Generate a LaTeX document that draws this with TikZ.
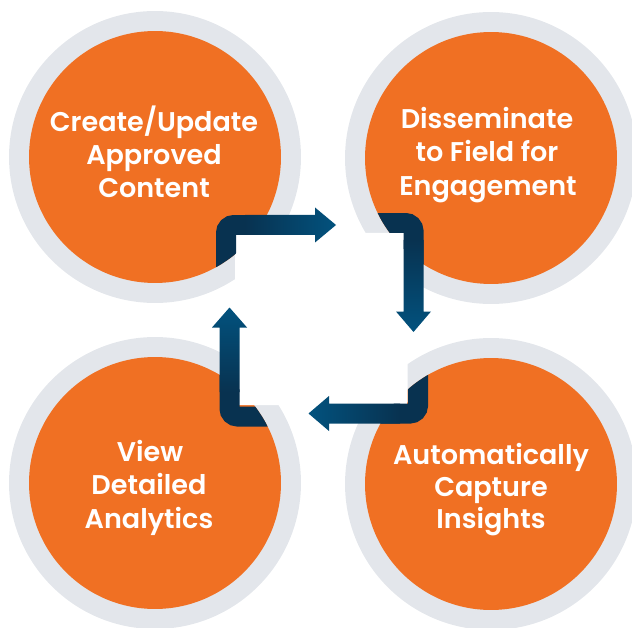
\documentclass[tikz,border=0pt]{standalone}
\usepackage{fontspec}
\newfontfamily\stepfont{Poppins SemiBold}
\definecolor{ringgray}{HTML}{E3E6EB}
\definecolor{discorange}{HTML}{F07023}
\definecolor{navy}{HTML}{083250}
\definecolor{navylight}{HTML}{02527E}
\begin{document}
\begin{tikzpicture}[x=0.02cm,y=-0.02cm,
  ringfill/.style={fill=ringgray},
  discfill/.style={fill=discorange},
  armstroke/.style={draw=navy, line width=0.4cm, rounded corners=0.16cm},
  captext/.style={text=white, font=\stepfont\fontsize{15.4}{18}\selectfont, anchor=base, inner sep=0pt},
]
\useasboundingbox (0,0) rectangle (632,628);
\clip (0,0) rectangle (632,628);

% circle centres
\coordinate (tl) at (155,157);
\coordinate (tr) at (491,158);
\coordinate (bl) at (155,483);
\coordinate (br) at (491,484);

% grey rings and orange discs
\foreach \c in {tl,tr,bl,br}{
  \fill[ringfill] (\c) circle[radius=2.92cm];
  \fill[discfill] (\c) circle[radius=2.52cm];
}

% white centre panel
\fill[white, rounded corners=0.06cm] (235,233) rectangle (407.5,405);

% elbow of each arrow, kept inside its disc
\begin{scope}
  \clip (tl) circle[radius=2.52cm];
  \draw[armstroke] (226,420) -- (226,225) -- (320,225);
\end{scope}
\begin{scope}
  \clip (tr) circle[radius=2.52cm];
  \draw[armstroke] (300,223) -- (413.5,223) -- (413.5,320);
\end{scope}
\begin{scope}
  \clip (br) circle[radius=2.52cm];
  \draw[armstroke] (418,300) -- (418,413.5) -- (300,413.5);
\end{scope}
\begin{scope}
  \clip (bl) circle[radius=2.52cm];
  \draw[armstroke] (420,416.5) -- (229.5,416.5) -- (229.5,300);
\end{scope}

% shafts and heads
\shade[left color=navy, middle color=navy, right color=navylight]
  (245,215) -- (315,215) -- (315,207.5) -- (336,225) -- (315,242.5) -- (315,235) -- (245,235) -- cycle;
\shade[top color=navy, middle color=navy, bottom color=navylight]
  (403.5,240) -- (403.5,311.5) -- (396,311.5) -- (413.5,332) -- (431,311.5) -- (423.5,311.5) -- (423.5,240) -- cycle;
\shade[right color=navy, middle color=navy, left color=navylight]
  (400,403.5) -- (329,403.5) -- (329,396) -- (308.5,413.5) -- (329,431) -- (329,423.5) -- (400,423.5) -- cycle;
\shade[bottom color=navy, middle color=navy, top color=navylight]
  (219.5,392) -- (219.5,327.5) -- (212,327.5) -- (229.5,307.5) -- (247,327.5) -- (239.5,327.5) -- (239.5,392) -- cycle;

% captions
\node[captext] (t1a) at (154,131.5) {Create/Update};
\node[captext] (t1b) at (154,164.5) {Approved};
\node[captext] (t1c) at (154,197.5) {Content};
\node[captext] (t2a) at (487,128.5) {Disseminate};
\node[captext] (t2b) at (487,161.5) {to Field for};
\node[captext] (t2c) at (488,195.5) {Engagement};
\node[captext] (t3a) at (150,461.5) {View};
\node[captext] (t3b) at (149,494.5) {Detailed};
\node[captext] (t3c) at (149,528.5) {Analytics};
\node[captext] (t4a) at (491,464.5) {Automatically};
\node[captext] (t4b) at (491,496.5) {Capture};
\node[captext] (t4c) at (491,528.5) {Insights};
\end{tikzpicture}
\end{document}
